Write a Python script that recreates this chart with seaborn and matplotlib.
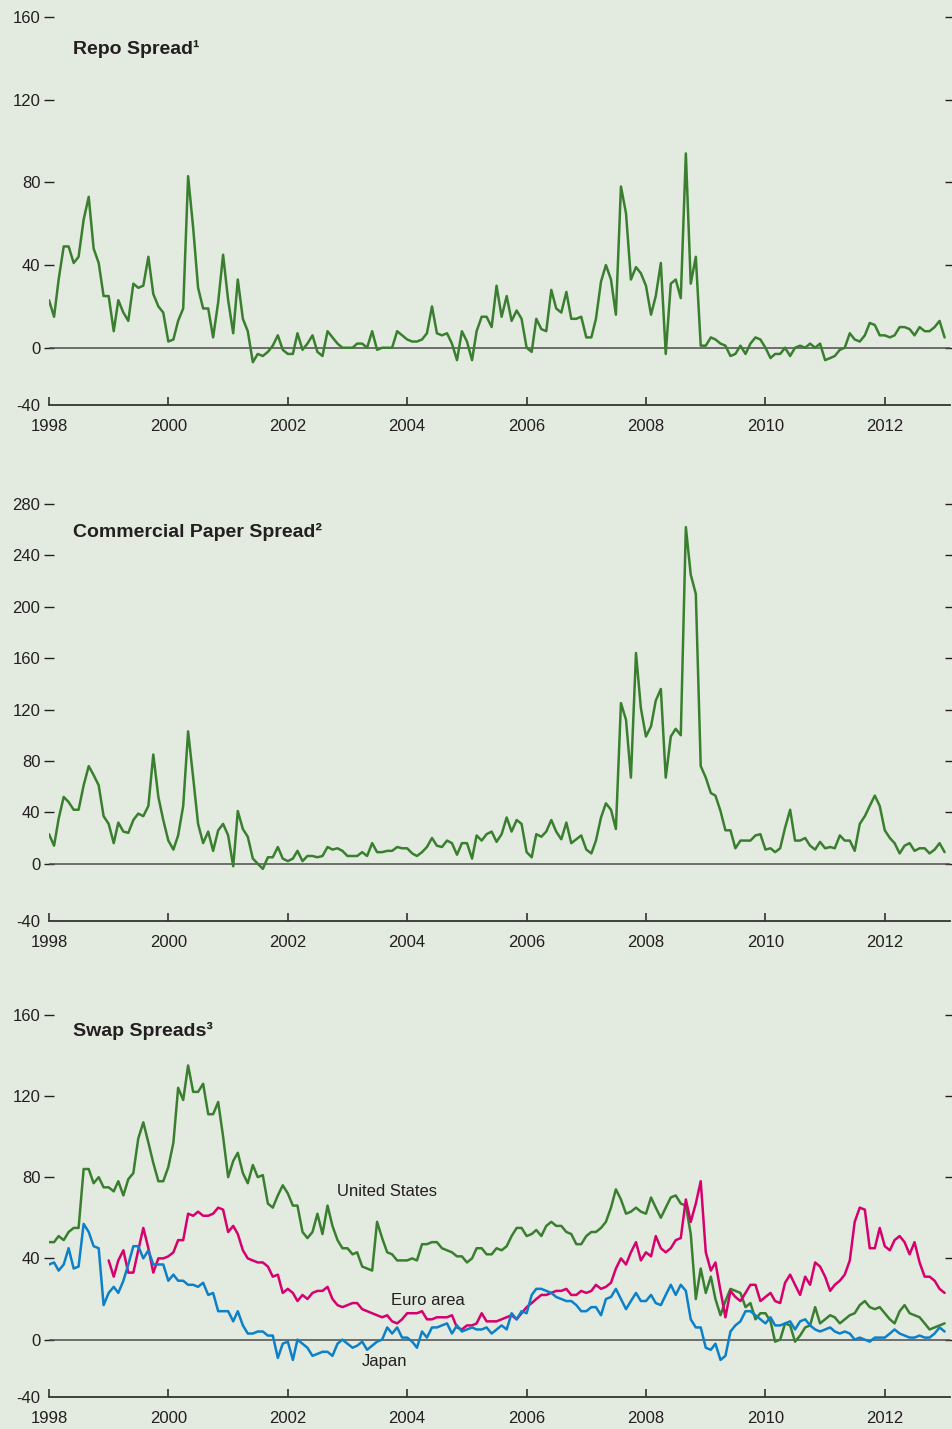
import pandas as pd
import matplotlib
matplotlib.use("Agg")
import matplotlib.pyplot as plt
import seaborn as sns

# monthly spreads in basis points, Jan 1998 - Jan 2013
repo = [23, 15, 33, 49, 49, 41, 44, 62, 73, 48,
        41, 25, 25, 8, 23, 17, 13, 31, 29, 30,
        44, 26, 20, 17, 3, 4, 13, 19, 83, 58,
        29, 19, 19, 5, 22, 45, 23, 7, 33, 14,
        8, -7, -3, -4, -2, 1, 6, -1, -3, -3,
        7, -1, 2, 6, -2, -4, 8, 5, 2, 0,
        0, 0, 2, 2, 0, 8, -1, 0, 0, 0,
        8, 6, 4, 3, 3, 4, 7, 20, 7, 6,
        7, 2, -6, 8, 3, -6, 8, 15, 15, 10,
        30, 15, 25, 13, 18, 14, 0, -2, 14, 9,
        8, 28, 19, 17, 27, 14, 14, 15, 5, 5,
        14, 32, 40, 33, 16, 78, 65, 33, 39, 36,
        30, 16, 25, 41, -3, 31, 33, 24, 94, 31,
        44, 1, 1, 5, 4, 2, 1, -4, -3, 1,
        -3, 2, 5, 4, 0, -5, -3, -3, 0, -4,
        0, 1, 0, 2, 0, 2, -6, -5, -4, -1,
        0, 7, 4, 3, 6, 12, 11, 6, 6, 5,
        6, 10, 10, 9, 6, 10, 8, 8, 10, 13, 5]

cp = [23, 14, 35, 52, 48, 42, 42, 61, 76, 69,
      61, 37, 31, 16, 32, 25, 24, 34, 39, 37,
      45, 85, 52, 34, 18, 11, 22, 45, 103, 67,
      31, 16, 25, 10, 26, 31, 22, -2, 41, 27,
      21, 4, 0, -4, 5, 5, 13, 4, 2, 4,
      10, 2, 6, 6, 5, 6, 13, 11, 12, 10,
      6, 6, 6, 9, 6, 16, 9, 9, 10, 10,
      13, 12, 12, 8, 6, 9, 13, 20, 14, 13,
      18, 16, 7, 16, 16, 4, 22, 18, 23, 25,
      17, 23, 36, 25, 34, 31, 9, 5, 23, 21,
      25, 34, 25, 19, 32, 16, 19, 22, 11, 8,
      18, 36, 47, 42, 27, 125, 112, 67, 164, 121,
      99, 107, 127, 136, 67, 99, 105, 100, 262, 225,
      210, 76, 67, 55, 53, 41, 26, 26, 12, 18,
      18, 18, 22, 23, 11, 12, 9, 12, 28, 42,
      18, 18, 20, 14, 11, 17, 12, 13, 12, 22,
      18, 18, 10, 31, 37, 45, 53, 45, 26, 20,
      16, 8, 14, 16, 10, 12, 12, 8, 11, 16, 9]

swap_us = [48, 48, 51, 49, 53, 55, 55, 84, 84, 77,
           80, 75, 75, 73, 78, 71, 79, 82, 99, 107,
           97, 87, 78, 78, 85, 97, 124, 118, 135, 122,
           122, 126, 111, 111, 117, 100, 80, 88, 92, 82,
           77, 86, 80, 81, 67, 65, 71, 76, 72, 66,
           66, 53, 50, 53, 62, 52, 66, 56, 49, 45,
           45, 42, 43, 36, 35, 34, 58, 50, 43, 42,
           39, 39, 39, 40, 39, 47, 47, 48, 48, 45,
           44, 43, 41, 41, 38, 40, 45, 45, 42, 42,
           45, 44, 46, 51, 55, 55, 51, 52, 54, 51,
           56, 58, 56, 56, 53, 52, 47, 47, 51, 53,
           53, 55, 58, 65, 74, 69, 62, 63, 65, 63,
           62, 70, 65, 60, 65, 70, 71, 67, 66, 52,
           20, 35, 23, 31, 20, 12, 19, 25, 24, 23,
           16, 18, 10, 13, 13, 9, -1, 0, 8, 7,
           -1, 2, 6, 7, 16, 8, 10, 12, 11, 8,
           10, 12, 13, 17, 19, 16, 15, 16, 13, 10,
           8, 14, 17, 13, 12, 11, 8, 5, 6, 7, 8]

# euro area series starts Jan 1999
swap_euro = [39, 31, 39, 44, 33, 33, 44, 55,
             45, 33, 40, 40, 41, 43, 49, 49, 62, 61,
             63, 61, 61, 62, 65, 64, 53, 56, 52, 44,
             40, 39, 38, 38, 36, 31, 32, 23, 25, 23,
             19, 22, 20, 23, 24, 24, 26, 20, 17, 16,
             17, 18, 18, 15, 14, 13, 12, 11, 12, 9,
             8, 10, 13, 13, 13, 14, 10, 10, 11, 11,
             11, 12, 6, 5, 7, 7, 8, 13, 9, 9,
             9, 10, 11, 12, 10, 13, 16, 18, 20, 22,
             22, 23, 24, 24, 25, 22, 22, 24, 23, 24,
             27, 25, 26, 28, 35, 40, 37, 43, 48, 39,
             43, 41, 51, 45, 43, 45, 49, 50, 69, 58,
             67, 78, 43, 34, 38, 24, 11, 24, 21, 19,
             23, 27, 27, 19, 21, 23, 19, 18, 28, 32,
             27, 22, 31, 27, 38, 36, 31, 24, 27, 29,
             32, 39, 58, 65, 64, 45, 45, 55, 46, 44,
             49, 51, 48, 42, 48, 38, 31, 31, 29, 25, 23]

swap_japan = [37, 38, 34, 37, 45, 35, 36, 57, 53, 46,
              45, 17, 23, 26, 23, 29, 37, 46, 46, 40,
              44, 37, 37, 37, 29, 32, 29, 29, 27, 27,
              26, 28, 22, 23, 14, 14, 14, 9, 14, 7,
              3, 3, 4, 4, 2, 2, -9, -2, -1, -10,
              0, -2, -4, -8, -7, -6, -6, -8, -2, 0,
              -2, -4, -3, -1, -5, -3, -1, 0, 6, 3,
              6, 1, 1, -1, -4, 4, 1, 6, 6, 7,
              8, 3, 7, 4, 5, 6, 5, 5, 6, 3,
              5, 7, 5, 13, 10, 14, 13, 22, 25, 25,
              24, 23, 21, 20, 19, 19, 17, 14, 14, 16,
              16, 12, 20, 21, 25, 20, 15, 19, 23, 19,
              19, 22, 18, 17, 22, 27, 22, 27, 24, 10,
              6, 6, -4, -5, -2, -10, -8, 4, 7, 9,
              14, 14, 12, 10, 8, 11, 7, 7, 8, 9,
              5, 9, 10, 7, 5, 4, 5, 6, 4, 3,
              4, 3, 0, 1, 0, -1, 1, 1, 1, 3,
              5, 3, 2, 1, 1, 2, 1, 1, 3, 6, 4]

year_ticks = list(range(1998, 2013, 2))
titles = ["Repo Spread\u00b9", "Commercial Paper Spread\u00b2", "Swap Spreads\u00b3"]

BG = "#E3EBE0"
GREEN = "#3A7F2F"
MAGENTA = "#D6006E"
BLUE = "#0C80C8"
INK = "#231F20"

sns.set_theme(style="white")
plt.rcParams["font.family"] = ["Liberation Sans", "DejaVu Sans"]

dates = pd.date_range("1998-01-01", periods=len(repo), freq="MS")
euro_dates = pd.date_range("1999-01-01", periods=len(swap_euro), freq="MS")

df_repo = pd.DataFrame({"date": dates, "value": repo, "series": "Repo"})
df_cp = pd.DataFrame({"date": dates, "value": cp, "series": "CP"})
df_swap = pd.concat([
    pd.DataFrame({"date": dates, "value": swap_us, "series": "United States"}),
    pd.DataFrame({"date": euro_dates, "value": swap_euro, "series": "Euro area"}),
    pd.DataFrame({"date": dates, "value": swap_japan, "series": "Japan"}),
], ignore_index=True)

fig = plt.figure(figsize=(9.53, 14.29), dpi=100, facecolor=BG)
W, H = 953, 1429


def add_axes(top_px, bottom_px):
    return fig.add_axes([49 / W, 1 - bottom_px / H, 901 / W, (bottom_px - top_px) / H])


def style_panel(ax, ylo, yhi, step, title, title_y):
    ax.set_facecolor(BG)
    ax.axhline(0, color="#4D4D4D", lw=1.1, zorder=1)
    ax.set_ylim(ylo, yhi)
    ax.set_xlim(pd.Timestamp("1998-01-01"), pd.Timestamp("2013-02-03"))
    yt = list(range(0, yhi + 1, step))
    ax.set_yticks([ylo] + yt)
    ax.set_yticklabels(["-40"] + [str(v) for v in yt])
    ax.set_xticks([pd.Timestamp(f"{y}-01-01") for y in year_ticks])
    ax.set_xticklabels([str(y) for y in year_ticks])
    for side in ["left", "right", "top"]:
        ax.spines[side].set_visible(False)
    ax.spines["bottom"].set_color("#333333")
    ax.spines["bottom"].set_linewidth(1.3)
    ax.tick_params(axis="y", direction="inout", length=6.5, width=1.0, color=INK,
                   left=True, right=True, labelleft=True, labelright=False,
                   labelsize=12, labelcolor=INK, pad=3)
    ax.tick_params(axis="x", direction="in", length=6, width=1.2, color="#333333",
                   bottom=True, top=False, labelsize=12, labelcolor=INK, pad=10)
    t0 = ax.yaxis.get_major_ticks()[0]
    t0.tick1line.set_visible(False)
    t0.tick2line.set_visible(False)
    ax.set_xlabel("")
    ax.set_ylabel("")
    ax.text(0.0266, title_y, title, transform=ax.transAxes, fontsize=14,
            fontweight="bold", color=INK, ha="left", va="baseline")


# Repo spread
ax1 = add_axes(17, 405)
sns.lineplot(data=df_repo, x="date", y="value", color=GREEN, linewidth=1.8,
             estimator=None, ax=ax1, zorder=3)
style_panel(ax1, -27.7, 160, 40, titles[0], 0.9046)

# Commercial paper spread
ax2 = add_axes(504, 921)
sns.lineplot(data=df_cp, x="date", y="value", color=GREEN, linewidth=1.8,
             estimator=None, ax=ax2, zorder=3)
style_panel(ax2, -44.6, 280, 40, titles[1], 0.9209)

# Swap spreads
ax3 = add_axes(1014.7, 1397.3)
sns.lineplot(data=df_swap, x="date", y="value", hue="series",
             hue_order=["United States", "Euro area", "Japan"],
             palette={"United States": GREEN, "Euro area": MAGENTA, "Japan": BLUE},
             linewidth=1.8, estimator=None, legend=False, ax=ax3, zorder=3)
style_panel(ax3, -28.4, 160, 40, titles[2], 0.9443)

ax3.text(pd.Timestamp("2002-10-30"), 72.9, "United States", fontsize=12,
         color=INK, ha="left", va="center")
ax3.text(pd.Timestamp("2003-09-27"), 19.1, "Euro area", fontsize=12,
         color=INK, ha="left", va="center")
ax3.text(pd.Timestamp("2003-04-01"), -10.8, "Japan", fontsize=12,
         color=INK, ha="left", va="center")

fig.savefig("out.png", dpi=100, facecolor=BG)
